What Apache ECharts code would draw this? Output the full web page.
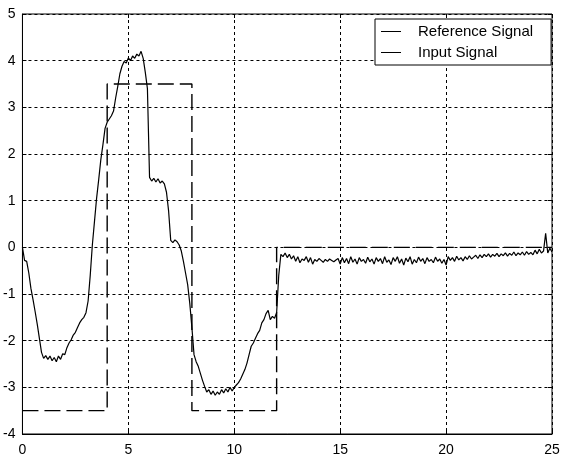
<!DOCTYPE html>
<html>
<head>
<meta charset="utf-8">
<script src="https://cdn.jsdelivr.net/npm/echarts@6/dist/echarts.min.js"></script>
<style>
  html, body { margin: 0; padding: 0; background: #fff; }
  #chart { width: 564px; height: 457px; }
</style>
</head>
<body>
<div id="chart"></div>
<script>
// reference signal corners (time, value)
const refTime = [0, 4, 4, 8, 8, 12, 12, 25];
const refValue = [-3.5, -3.5, 3.5, 3.5, -3.5, -3.5, 0, 0];

// input signal, sampled every 0.1 s from t = 0 to t = 25
const inputStep = 0.1;
const inputValue = [
  0, -0.28, -0.3, -0.55, -0.88, -1.12, -1.38, -1.65, -1.95, -2.25,
  -2.38, -2.32, -2.4, -2.33, -2.43, -2.36, -2.45, -2.33, -2.4, -2.28,
  -2.3, -2.15, -2.05, -1.98, -1.88, -1.82, -1.72, -1.62, -1.55, -1.5,
  -1.4, -1.15, -0.6, 0.05, 0.55, 1.05, 1.45, 1.88, 2.2, 2.55,
  2.68, 2.75, 2.82, 2.92, 3.2, 3.45, 3.72, 3.88, 3.98, 3.95,
  4.06, 4.0, 4.1, 4.05, 4.14, 4.1, 4.2, 4.05, 3.75, 3.4,
  1.5, 1.42, 1.48, 1.4, 1.47, 1.38, 1.42, 1.36, 1.18, 0.78,
  0.15, 0.1, 0.16, 0.12, 0.05, -0.08, -0.3, -0.55, -0.8, -1.2,
  -1.72, -2.3, -2.45, -2.55, -2.7, -2.85, -2.98, -3.1, -3.05, -3.15,
  -3.08, -3.17, -3.1, -3.15, -3.05, -3.12, -3.03, -3.1, -3.0, -3.08,
  -3.0, -2.95, -2.9, -2.82, -2.72, -2.62, -2.48, -2.3, -2.12, -2.05,
  -1.95, -1.85, -1.78, -1.62, -1.55, -1.42, -1.35, -1.55, -1.48, -1.52,
  -1.4, -0.6, -0.15, -0.2, -0.12, -0.22, -0.15, -0.25, -0.18, -0.3,
  -0.2, -0.33, -0.25, -0.28, -0.2, -0.32, -0.22, -0.36, -0.26, -0.3,
  -0.24, -0.28, -0.32, -0.26, -0.3, -0.25, -0.28, -0.31, -0.27, -0.24,
  -0.36, -0.22, -0.33, -0.24, -0.35, -0.2, -0.32, -0.25, -0.36, -0.22,
  -0.3, -0.26, -0.34, -0.21, -0.31, -0.25, -0.36, -0.22, -0.3, -0.24,
  -0.35, -0.2, -0.32, -0.27, -0.37, -0.22, -0.3, -0.2, -0.34, -0.25,
  -0.38, -0.23, -0.31, -0.2, -0.36, -0.26, -0.33, -0.21, -0.3, -0.24,
  -0.35, -0.22, -0.3, -0.26, -0.33, -0.21, -0.3, -0.25, -0.34, -0.26,
  -0.38, -0.2, -0.28, -0.22, -0.3, -0.19, -0.27, -0.22, -0.29, -0.2,
  -0.26, -0.18, -0.25, -0.21, -0.17, -0.24, -0.16, -0.22, -0.15, -0.2,
  -0.14, -0.21, -0.15, -0.19, -0.13, -0.2, -0.14, -0.18, -0.12, -0.19,
  -0.13, -0.17, -0.1, -0.18, -0.12, -0.16, -0.1, -0.17, -0.09, -0.15,
  -0.11, -0.16, -0.06, -0.14, -0.04, -0.12, -0.08, 0.3, -0.12, -0.02,
  -0.1
];

const seriesNames = ["Reference Signal", "Input Signal"];

const refData = refTime.map((t, i) => [t, refValue[i]]);
const inputData = inputValue.map((v, i) => [+(i * inputStep).toFixed(1), v]);

const font = "Liberation Sans, Arial, sans-serif";
const gridDots = { show: true, lineStyle: { color: "#000", width: 1, type: [3, 3] } };
const tickIn = { show: true, inside: true, length: 4, lineStyle: { color: "#000" } };

const chart = echarts.init(document.getElementById("chart"));

chart.setOption({
  animation: false,
  grid: {
    left: 22,
    right: 12,
    top: 14,
    bottom: 20,
    show: true,
    borderColor: "#000",
    borderWidth: 1
  },
  legend: {
    data: seriesNames,
    orient: "vertical",
    left: 375,
    top: 19,
    padding: [5, 18, 5, 6],
    itemGap: 6,
    itemWidth: 20,
    itemHeight: 1,
    icon: "rect",
    backgroundColor: "#fff",
    borderColor: "#000",
    borderWidth: 1,
    borderRadius: 0,
    itemStyle: { color: "#000", borderWidth: 0 },
    lineStyle: { color: "#000", width: 1.2, type: "solid" },
    textStyle: {
      color: "#000",
      fontFamily: font,
      fontSize: 15,
      lineHeight: 15,
      padding: [0, 0, 0, 12]
    }
  },
  xAxis: [
    {
      type: "value",
      min: 0,
      max: 25,
      interval: 5,
      axisLine: { show: true, onZero: false, lineStyle: { color: "#000" } },
      axisTick: tickIn,
      axisLabel: { color: "#000", fontFamily: font, fontSize: 14, margin: 9 },
      splitLine: gridDots
    },
    {
      type: "value",
      position: "top",
      min: 0,
      max: 25,
      interval: 5,
      axisLine: { show: false, onZero: false },
      axisTick: tickIn,
      axisLabel: { show: false },
      splitLine: { show: false }
    }
  ],
  yAxis: [
    {
      type: "value",
      min: -4,
      max: 5,
      interval: 1,
      axisLine: { show: true, onZero: false, lineStyle: { color: "#000" } },
      axisTick: tickIn,
      axisLabel: { color: "#000", fontFamily: font, fontSize: 14, margin: 7 },
      splitLine: gridDots
    },
    {
      type: "value",
      position: "right",
      min: -4,
      max: 5,
      interval: 1,
      axisLine: { show: false, onZero: false },
      axisTick: tickIn,
      axisLabel: { show: false },
      splitLine: { show: false }
    }
  ],
  series: [
    {
      name: seriesNames[0],
      type: "line",
      data: refData,
      showSymbol: false,
      color: "#000",
      lineStyle: { color: "#000", width: 1.4, type: [16, 6] },
      z: 2
    },
    {
      name: seriesNames[1],
      type: "line",
      data: inputData,
      showSymbol: false,
      color: "#000",
      lineStyle: { color: "#000", width: 1.2 },
      z: 3
    }
  ]
});
</script>
</body>
</html>
